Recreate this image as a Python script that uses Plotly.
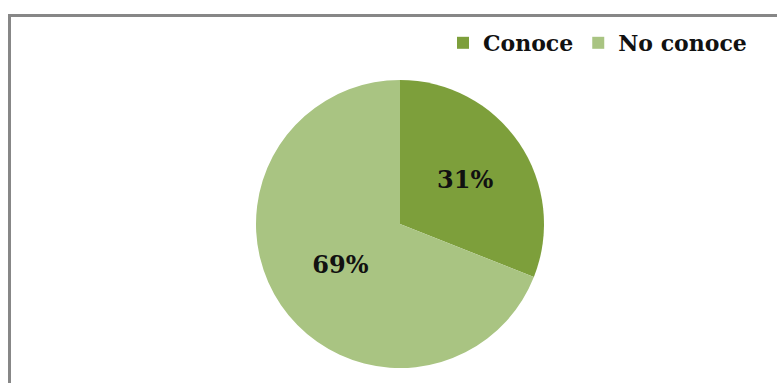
import plotly.graph_objects as go

labels = ["Conoce", "No conoce"]
values = [31, 69]
colors = ["#7d9f3b", "#a9c482"]

W, H = 777, 383

fig = go.Figure(go.Pie(
    labels=labels,
    values=values,
    sort=False,
    direction="clockwise",
    rotation=0,
    marker=dict(colors=colors, line=dict(width=0)),
    textinfo="percent",
    texttemplate="%{percent:.0%}",
    textposition="inside",
    insidetextorientation="horizontal",
    textfont=dict(family="DejaVu Serif", size=24, color="#111111", weight="bold"),
    domain=dict(x=[256 / W, 544 / W], y=[(H - 373) / H, (H - 75) / H]),
    hoverinfo="skip",
))

fig.add_shape(type="rect", xref="paper", yref="paper",
              x0=9.5 / W, x1=1.05, y0=-0.05, y1=(H - 15.5) / H,
              line=dict(color="#878787", width=3), fillcolor="rgba(0,0,0,0)")

fig.update_layout(
    width=W, height=H,
    margin=dict(l=0, r=0, t=0, b=0),
    paper_bgcolor="white",
    plot_bgcolor="white",
    showlegend=True,
    legend=dict(orientation="h", x=752 / W, xanchor="right", y=(H - 22) / H, yanchor="top",
                font=dict(family="DejaVu Serif", size=22, color="#111111", weight="bold"),
                itemwidth=30, tracegroupgap=0, bgcolor="rgba(0,0,0,0)"),
    font=dict(family="DejaVu Serif"),
)

fig.write_html("out.html")
